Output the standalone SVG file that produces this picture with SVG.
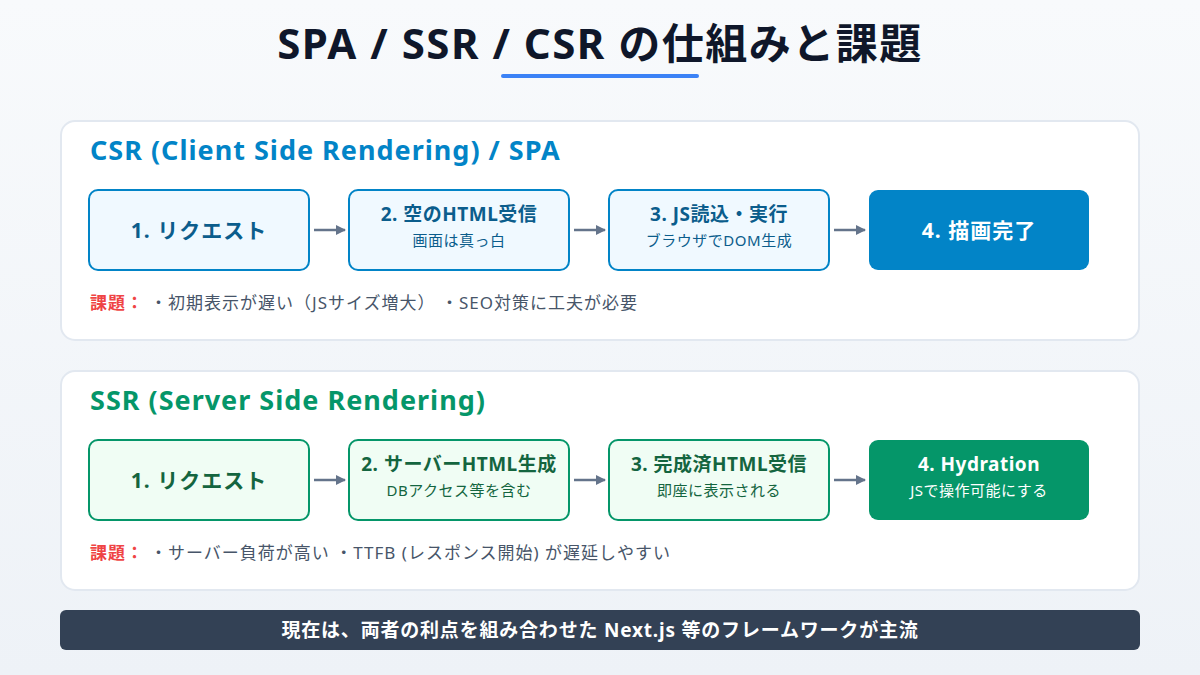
<svg xmlns="http://www.w3.org/2000/svg" width="1200" height="675" viewBox="0 0 1200 675">
  <defs>
    <linearGradient id="bg" x1="0" y1="0" x2="0" y2="1">
      <stop offset="0" stop-color="#f8fafc"/>
      <stop offset="1" stop-color="#eef2f7"/>
    </linearGradient>
    <marker id="arr" viewBox="0 0 10 10" refX="9" refY="5" markerWidth="10" markerHeight="10" markerUnits="userSpaceOnUse" orient="auto">
      <path d="M0,0 L10,5 L0,10 z" fill="#64748b"/>
    </marker>
    <style>
      text { font-family: "Noto Sans", "Noto Sans CJK JP", sans-serif; }
      .panel { fill: #ffffff; stroke: #e2e8f0; stroke-width: 2; }
      .ptitle { font-size: 27px; font-weight: 700; letter-spacing: 1px; }
      .csr-box { fill: #f0f9ff; stroke: #0284c7; stroke-width: 2; }
      .csr-fill { fill: #0284c7; }
      .ssr-box { fill: #f0fdf4; stroke: #059669; stroke-width: 2; }
      .ssr-fill { fill: #059669; }
      .big { font-size: 21px; font-weight: 700; text-anchor: middle; letter-spacing: 1px; }
      .h { font-size: 19px; font-weight: 700; text-anchor: middle; letter-spacing: 0.5px; }
      .s { font-size: 15px; text-anchor: middle; letter-spacing: 0.5px; }
      .csr-t { fill: #0b5d8c; }
      .ssr-t { fill: #14653f; }
      .conn { stroke: #64748b; stroke-width: 2.5; fill: none; marker-end: url(#arr); }
      .issue-l { font-size: 17px; font-weight: 700; fill: #ef4444; letter-spacing: 1px; }
      .issue { font-size: 17px; fill: #475569; letter-spacing: 1px; }
    </style>
  </defs>
  <rect width="1200" height="675" fill="url(#bg)"/>

  <g id="title">
    <text x="600" y="59" text-anchor="middle" font-size="42" font-weight="700" fill="#0f172a" letter-spacing="1.5">SPA / SSR / CSR の仕組みと課題</text>
    <line x1="503" y1="76" x2="697" y2="76" stroke="#3b82f6" stroke-width="4" stroke-linecap="round"/>
  </g>

  <g id="csr-panel">
    <rect class="panel" x="61" y="121" width="1078" height="219" rx="14"/>
    <text class="ptitle" x="90" y="160" fill="#0284c7">CSR (Client Side Rendering) / SPA</text>
  </g>
  <g id="csr-1">
    <rect class="csr-box" x="89" y="190" width="220" height="80" rx="9"/>
    <text class="big csr-t" x="199" y="238">1. リクエスト</text>
  </g>
  <g id="csr-2">
    <rect class="csr-box" x="349" y="190" width="220" height="80" rx="9"/>
    <text class="h csr-t" x="459" y="221">2. 空のHTML受信</text>
    <text class="s csr-t" x="459" y="246">画面は真っ白</text>
  </g>
  <g id="csr-3">
    <rect class="csr-box" x="609" y="190" width="220" height="80" rx="9"/>
    <text class="h csr-t" x="719" y="221">3. JS読込・実行</text>
    <text class="s csr-t" x="719" y="246">ブラウザでDOM生成</text>
  </g>
  <g id="csr-4">
    <rect class="csr-fill" x="869" y="190" width="220" height="80" rx="9"/>
    <text class="big" x="979" y="238" fill="#ffffff">4. 描画完了</text>
  </g>
  <g id="csr-issues">
    <text class="issue-l" x="90" y="309">課題：</text>
    <text class="issue" x="150" y="309">・初期表示が遅い（JSサイズ増大） ・SEO対策に工夫が必要</text>
  </g>

  <g id="ssr-panel">
    <rect class="panel" x="61" y="371" width="1078" height="219" rx="14"/>
    <text class="ptitle" x="90" y="410" fill="#059669">SSR (Server Side Rendering)</text>
  </g>
  <g id="ssr-1">
    <rect class="ssr-box" x="89" y="440" width="220" height="80" rx="9"/>
    <text class="big ssr-t" x="199" y="488">1. リクエスト</text>
  </g>
  <g id="ssr-2">
    <rect class="ssr-box" x="349" y="440" width="220" height="80" rx="9"/>
    <text class="h ssr-t" x="459" y="471">2. サーバーHTML生成</text>
    <text class="s ssr-t" x="459" y="496">DBアクセス等を含む</text>
  </g>
  <g id="ssr-3">
    <rect class="ssr-box" x="609" y="440" width="220" height="80" rx="9"/>
    <text class="h ssr-t" x="719" y="471">3. 完成済HTML受信</text>
    <text class="s ssr-t" x="719" y="496">即座に表示される</text>
  </g>
  <g id="ssr-4">
    <rect class="ssr-fill" x="869" y="440" width="220" height="80" rx="9"/>
    <text class="h" x="979" y="471" fill="#ffffff">4. Hydration</text>
    <text class="s" x="979" y="496" fill="#ffffff">JSで操作可能にする</text>
  </g>
  <g id="ssr-issues">
    <text class="issue-l" x="90" y="559">課題：</text>
    <text class="issue" x="150" y="559">・サーバー負荷が高い ・TTFB (レスポンス開始) が遅延しやすい</text>
  </g>

  <g id="connectors">
    <line class="conn" x1="314" y1="230" x2="345" y2="230"/>
    <line class="conn" x1="574" y1="230" x2="605" y2="230"/>
    <line class="conn" x1="834" y1="230" x2="865" y2="230"/>
    <line class="conn" x1="314" y1="480" x2="345" y2="480"/>
    <line class="conn" x1="574" y1="480" x2="605" y2="480"/>
    <line class="conn" x1="834" y1="480" x2="865" y2="480"/>
  </g>

  <g id="footer">
    <rect x="60" y="610" width="1080" height="40" rx="6" fill="#334155"/>
    <text x="600" y="637" text-anchor="middle" font-size="19" font-weight="700" fill="#ffffff" letter-spacing="0.8">現在は、両者の利点を組み合わせた Next.js 等のフレームワークが主流</text>
  </g>
</svg>
